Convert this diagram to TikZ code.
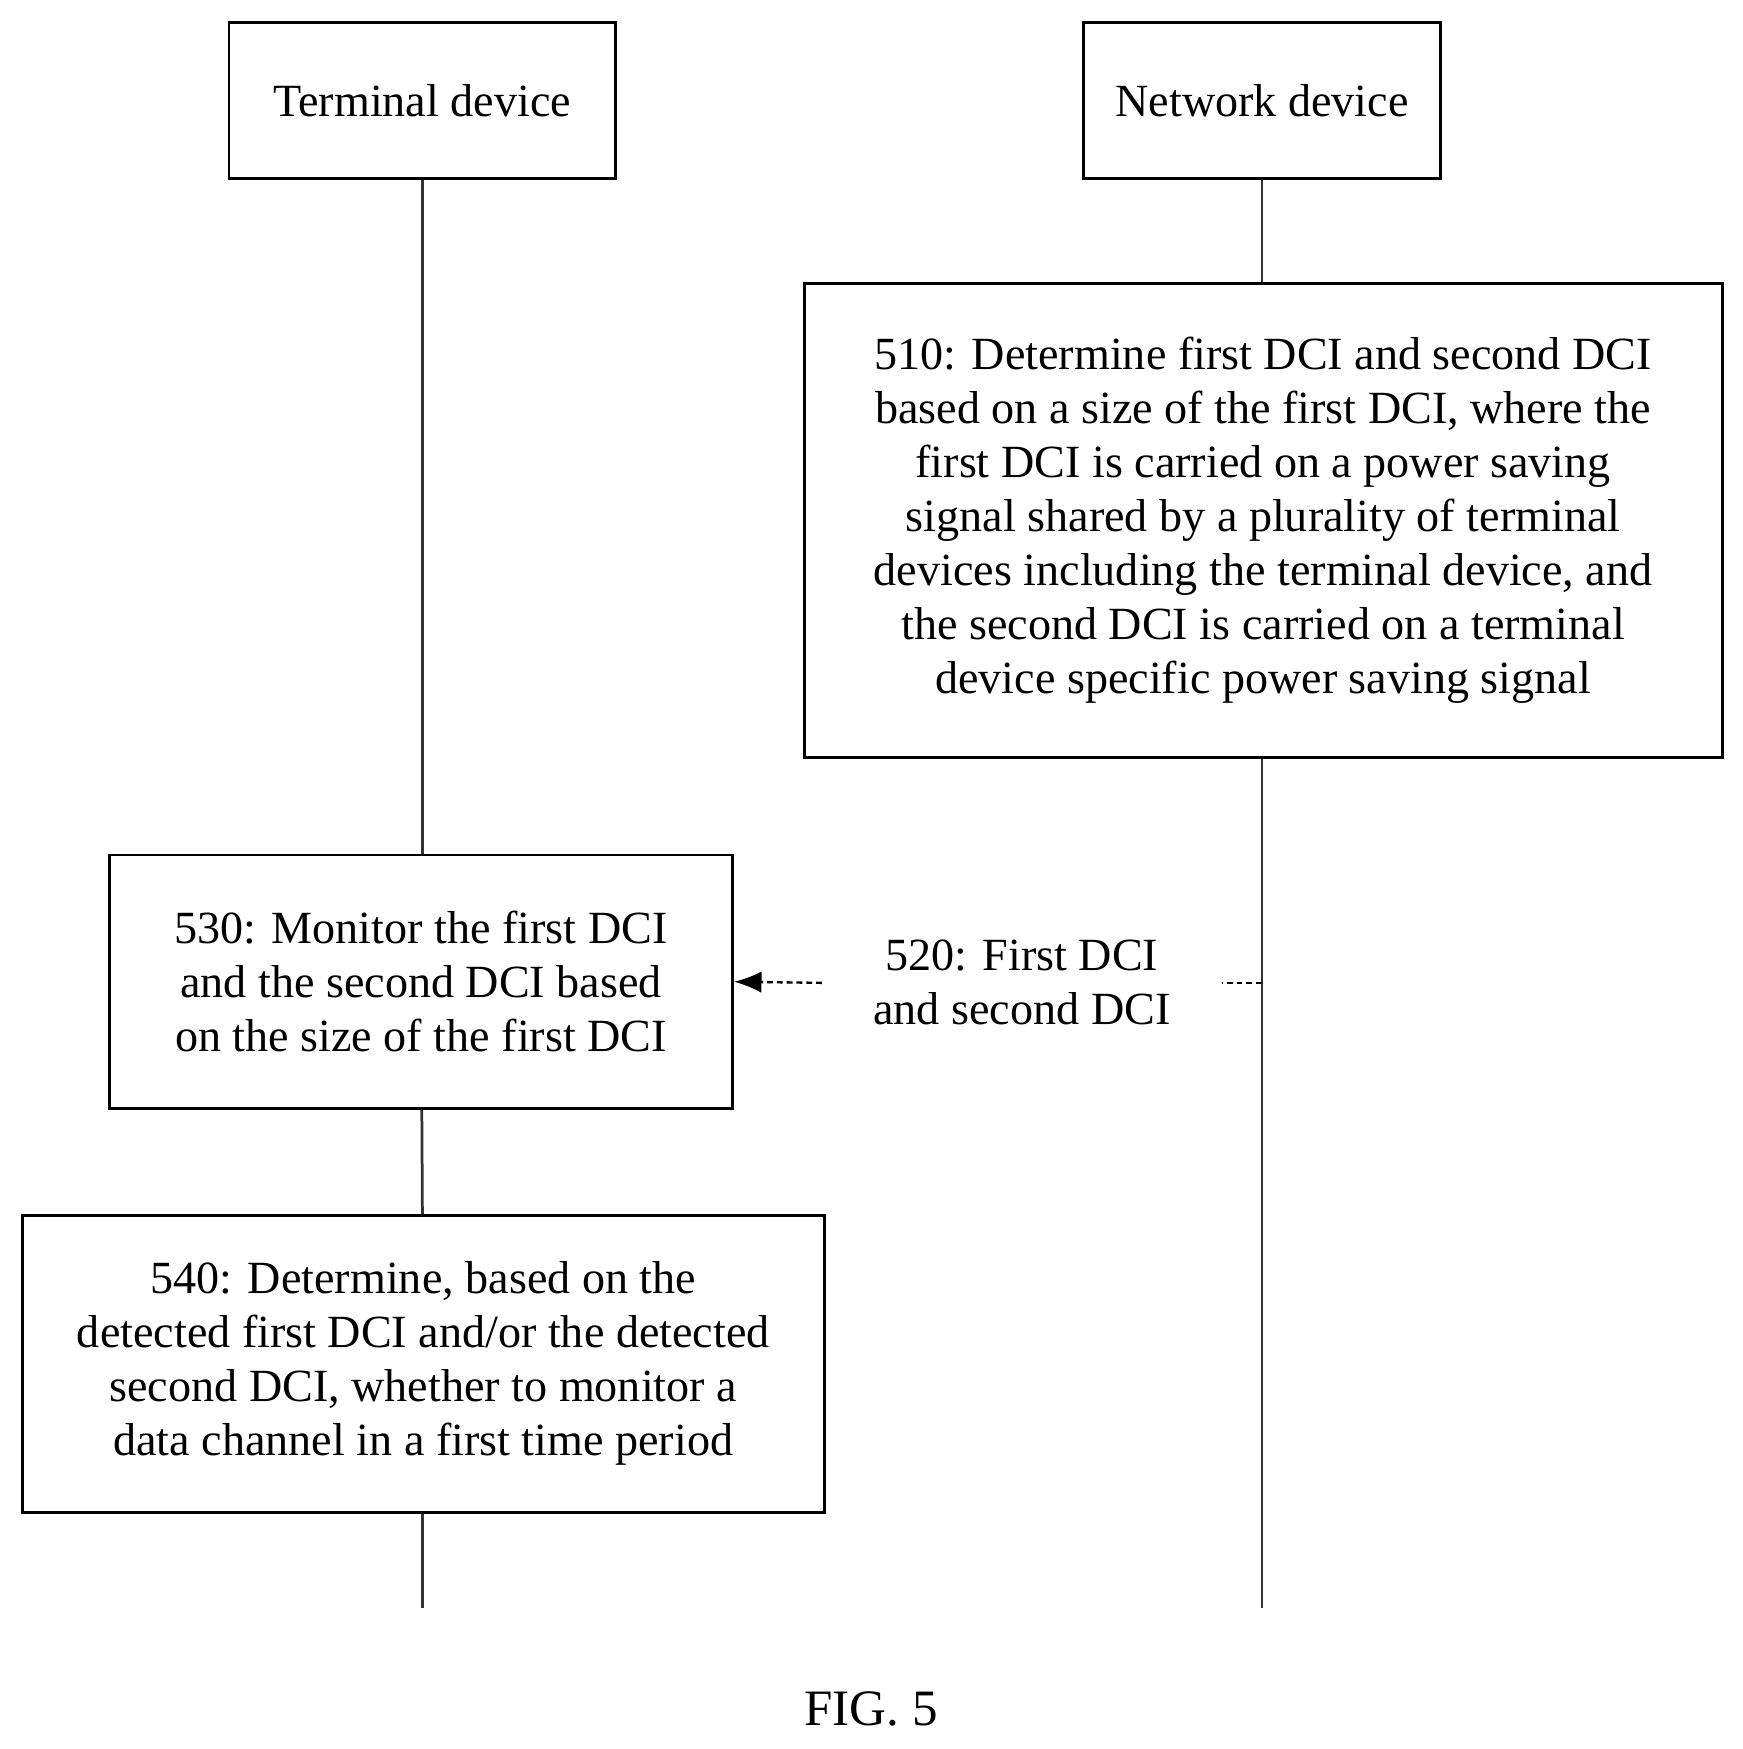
\documentclass[tikz,border=0pt]{standalone}
\usepackage{fontspec}
\setmainfont{Liberation Serif}
\usetikzlibrary{arrows.meta}

\begin{document}
\begin{tikzpicture}[x=0.02cm,y=-0.02cm,
    box/.style={draw,line width=1.4pt,align=center,inner sep=0pt,
      font=\fontsize{23.5}{27.5}\selectfont},
    life/.style={line width=1.4pt,black!80},
    dsh/.style={line width=1.2pt,dash pattern=on 3pt off 2pt},
    msg/.style={dsh,-{Latex[length=14pt,width=11pt]}}]
  \useasboundingbox (0,0) rectangle (1560,1566);

  % participants
  \node[box,minimum width=346*0.02cm,minimum height=140*0.02cm] (term) at (378,90) {Terminal device};
  \node[box,minimum width=320*0.02cm,minimum height=140*0.02cm] (net) at (1130,90) {Network device};

  % steps
  \node[box,minimum width=822*0.02cm,minimum height=425*0.02cm] (s510) at (1131,466)
    {510: Determine first DCI and second DCI\\
     based on a size of the first DCI, where the\\
     first DCI is carried on a power saving\\
     signal shared by a plurality of terminal\\
     devices including the terminal device, and\\
     the second DCI is carried on a terminal\\
     device specific power saving signal};
  \node[box,minimum width=558*0.02cm,minimum height=227*0.02cm] (s530) at (377,879)
    {530: Monitor the first DCI\\ and the second DCI based\\ on the size of the first DCI};
  \node[box,minimum width=718*0.02cm,minimum height=266*0.02cm] (s540) at (379,1221)
    {540: Determine, based on the\\ detected first DCI and/or the detected\\
     second DCI, whether to monitor a\\ data channel in a first time period};

  \coordinate (tend) at (378,1440);
  \coordinate (nend) at (1130,1440);
  \coordinate (tap) at (1130,880);

  % lifelines
  \draw[life] (term) -- (s530.north -| term);
  \draw[life] (s530) -- (s540);
  \draw[life] (s540.south -| tend) -- (tend);
  \draw[life] (net) -- (s510.north -| net);
  \draw[life] (s510.south -| net) -- (nend);

  % message
  \node[font=\fontsize{23.5}{27.5}\selectfont,align=center,fill=white,inner xsep=26pt] (m520) at (915,880)
    {520: First DCI\\ and second DCI};
  \draw[dsh] (tap) -- (m520.east);
  \draw[msg] (m520.west) -- (s530.east);

  \node[font=\fontsize{26}{30}\selectfont] (fig) at (780,1530) {FIG. 5};
\end{tikzpicture}
\end{document}
